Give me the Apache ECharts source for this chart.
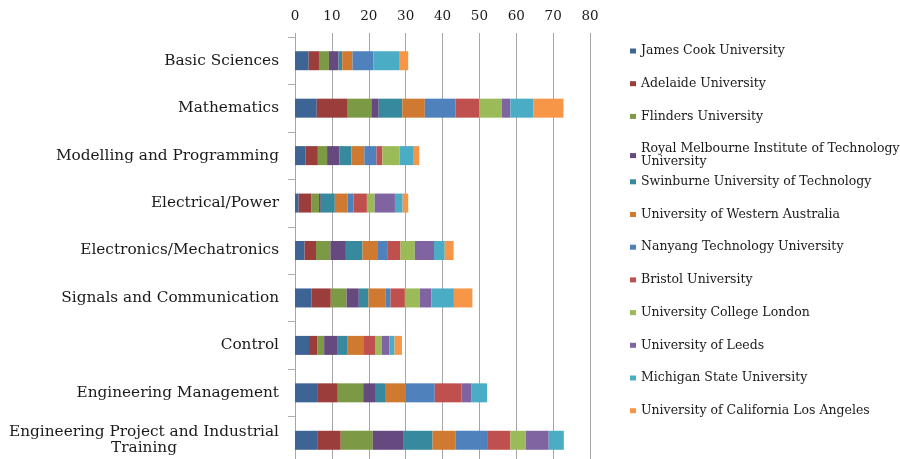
<!DOCTYPE html>
<html><head><meta charset="utf-8">
<script src="https://cdn.jsdelivr.net/npm/echarts@6/dist/echarts.min.js"></script>
<style>html,body{margin:0;padding:0;background:#fff;overflow:hidden}#c{width:900px;height:464px}</style>
</head><body><div id="c"></div>
<script>
const categories = ['Basic Sciences','Mathematics','Modelling and Programming','Electrical/Power','Electronics/Mechatronics','Signals and Communication','Control','Engineering Management','Engineering Project and Industrial Training'];
const universities = ['James Cook University','Adelaide University','Flinders University','Royal Melbourne Institute of Technology University','Swinburne University of Technology','University of Western Australia','Nanyang Technology University','Bristol University','University College London','University of Leeds','Michigan State University','University of California Los Angeles'];
const jamesCook = [3.7, 5.9, 2.8, 1.0, 2.6, 4.5, 3.8, 6.0, 6.2];
const adelaide  = [2.8, 8.4, 3.4, 3.5, 3.1, 5.2, 2.2, 5.6, 6.2];
const flinders  = [2.7, 6.4, 2.5, 2.0, 3.9, 4.3, 1.9, 6.9, 8.7];
const rmit      = [2.6, 2.0, 3.3, 0.5, 4.2, 3.3, 3.7, 3.2, 8.4];
const swinburne = [1.0, 6.4, 3.3, 3.8, 4.5, 2.6, 2.7, 2.7, 7.8];
const uwa       = [2.8, 6.1, 3.5, 3.5, 4.2, 4.6, 4.2, 5.6, 6.3];
const nanyang   = [5.7, 8.3, 3.3, 1.6, 2.5, 1.4, 0,   7.9, 8.5];
const bristol   = [0,   6.4, 1.6, 3.6, 3.6, 3.9, 3.2, 7.2, 6.3];
const ucl       = [0,   6.2, 4.7, 2.1, 3.9, 4.0, 1.8, 0,   4.2];
const leeds     = [0,   2.3, 0,   5.5, 5.2, 3.2, 2.1, 2.8, 6.2];
const michigan  = [6.9, 6.2, 3.6, 2.1, 2.9, 6.1, 1.4, 4.2, 4.1];
const ucla      = [2.5, 8.2, 1.7, 1.5, 2.4, 5.0, 2.0, 0,   0];
const seriesValues = [jamesCook, adelaide, flinders, rmit, swinburne, uwa, nanyang, bristol, ucl, leeds, michigan, ucla];
const xTicks = {min: 0, max: 80, interval: 10};

const colors = ['#3E6496','#9B3D3A','#7C9A45','#66497F','#378A9E','#CF7A30','#4F81BD','#C0504D','#9BBB59','#8064A2','#4BACC6','#F79646'];
const serif = '"DejaVu Serif", "Liberation Serif", serif';
const RMIT = 'Royal Melbourne Institute of Technology University';

const legends = universities.map((u, i) => {
  const center = 51 + i * 32.7;
  return {
    data: [u], orient: 'vertical', left: 630, top: center - 6.5,
    padding: 0, itemWidth: 6, itemHeight: 5, itemGap: 0, icon: 'rect',
    selectedMode: false,
    formatter: n => n === RMIT ? 'Royal Melbourne Institute of Technology\nUniversity' : n,
    textStyle: {fontFamily: serif, fontSize: 12.5, color: '#1a1a1a', padding: [0,0,0,0], lineHeight: 13}
  };
});

const chart = echarts.init(document.getElementById('c'), null, {renderer: 'canvas'});
chart.setOption({
  animation: false,
  color: colors,
  legend: legends,
  grid: {left: 295, right: 310, top: 37, bottom: 0, containLabel: false},
  xAxis: {
    type: 'value', position: 'top', min: xTicks.min, max: xTicks.max, interval: xTicks.interval,
    axisLine: {show: false},
    axisTick: {show: true, length: 4, lineStyle: {color: '#a6a6a6'}},
    splitLine: {show: true, lineStyle: {color: '#a6a6a6', width: 1}},
    axisLabel: {fontFamily: serif, fontSize: 13.5, color: '#1a1a1a', margin: 14}
  },
  yAxis: {
    type: 'category', inverse: true, data: categories,
    axisLine: {show: true, lineStyle: {color: '#a6a6a6'}},
    axisTick: {show: true, length: 7, lineStyle: {color: '#b0b0b0'}},
    axisLabel: {
      fontFamily: serif, fontSize: 15.3, color: '#1a1a1a', margin: 16,
      formatter: v => v === 'Engineering Project and Industrial Training' ? '{a|Engineering Project and Industrial}\n{a|Training}' : v,
      rich: {a: {fontFamily: serif, fontSize: 15.3, color: '#1a1a1a', align: 'center', lineHeight: 16}}
    }
  },
  series: universities.map((u, i) => ({
    name: u, type: 'bar', stack: 'total', barWidth: 19, data: seriesValues[i]
  }))
});
</script></body></html>
